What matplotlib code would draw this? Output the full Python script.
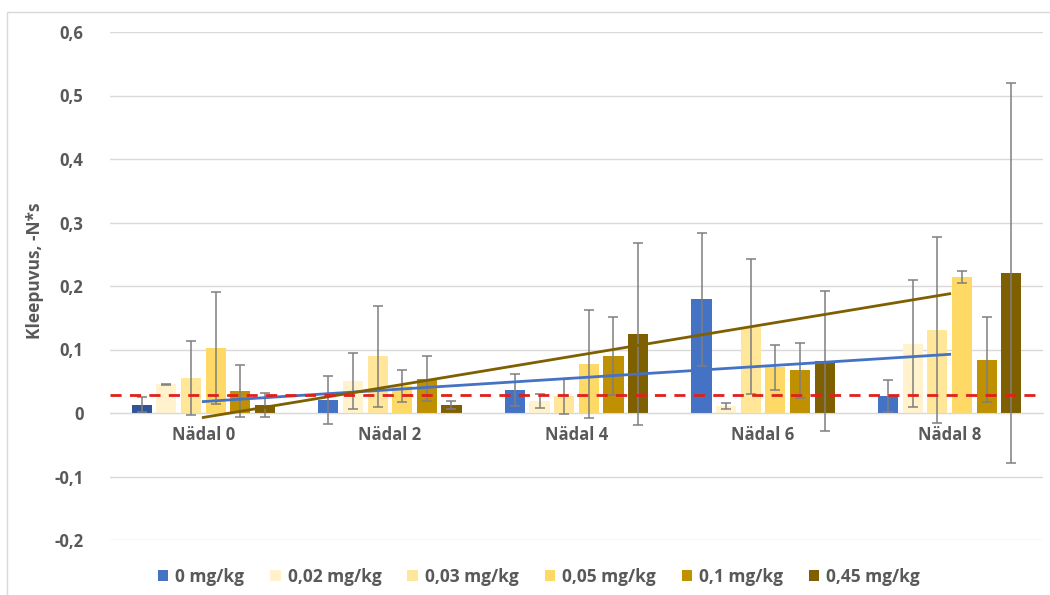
import numpy as np
import matplotlib
matplotlib.use("Agg")
import matplotlib.pyplot as plt
from matplotlib.patches import Patch, Rectangle

plt.rcParams['font.family'] = ['Open Sans', 'DejaVu Sans']

categories = ["Nädal 0", "Nädal 2", "Nädal 4", "Nädal 6", "Nädal 8"]
series_labels = ["0 mg/kg", "0,02 mg/kg", "0,03 mg/kg", "0,05 mg/kg", "0,1 mg/kg", "0,45 mg/kg"]

v_0 = [0.013, 0.021, 0.036, 0.179, 0.027]
v_002 = [0.045, 0.050, 0.019, 0.011, 0.109]
v_003 = [0.055, 0.089, 0.026, 0.136, 0.131]
v_005 = [0.102, 0.043, 0.077, 0.072, 0.214]
v_01 = [0.035, 0.054, 0.090, 0.067, 0.084]
v_045 = [0.012, 0.013, 0.124, 0.082, 0.221]

e_0 = [0.012, 0.038, 0.025, 0.105, 0.025]
e_002 = [0.001, 0.044, 0.011, 0.005, 0.100]
e_003 = [0.058, 0.079, 0.027, 0.106, 0.146]
e_005 = [0.088, 0.025, 0.085, 0.035, 0.010]
e_01 = [0.041, 0.035, 0.061, 0.044, 0.067]
e_045 = [0.019, 0.006, 0.143, 0.110, 0.299]

threshold = 0.028

yticks = [-0.2, -0.1, 0, 0.1, 0.2, 0.3, 0.4, 0.5, 0.6]
ytick_labels = ["-0,2", "-0,1", "0", "0,1", "0,2", "0,3", "0,4", "0,5", "0,6"]

values = [v_0, v_002, v_003, v_005, v_01, v_045]
errors = [e_0, e_002, e_003, e_005, e_01, e_045]
colors = ["#4472C4", "#FFF2CC", "#FFE699", "#FFD966", "#BF9000", "#7F6000"]

gray = "#595959"
fig = plt.figure(figsize=(10.5, 5.95), dpi=100)
ax = fig.add_axes([110/1050, 1-540/595, 933/1050, 508/595])

# outer chart frame
fig.patches.append(Rectangle((7/1050, -0.05), 1.1, 1-12/595+0.05, transform=fig.transFigure,
                             fill=False, edgecolor="#d9d9d9", linewidth=1.0, zorder=0))

x = np.arange(len(categories))
pitch = 0.132
width = 0.108
for i, (vals, errs, c) in enumerate(zip(values, errors, colors)):
    pos = x + (i - 2.5) * pitch
    bar_colors = [c] * len(vals)
    if i == 0:
        bar_colors[0] = "#2F5597"
    ax.bar(pos, vals, width=width, color=bar_colors, zorder=2, label=series_labels[i])
    ax.errorbar(pos, vals, yerr=errs, fmt="none", ecolor="#7f7f7f", elinewidth=1.1,
                capsize=3.5, capthick=1.1, zorder=3)

# linear trendlines
for idx, col in [(0, "#4472C4"), (5, "#7F6000")]:
    k, b = np.polyfit(x, values[idx], 1)
    ax.plot([x[0], x[-1]], [k * x[0] + b, k * x[-1] + b], color=col, linewidth=2.0, zorder=4)

ax.axhline(threshold, color="#E0201B", linewidth=2.0, linestyle=(0, (4, 3)), zorder=5)

ax.set_xlim(-0.5, 4.5)
ax.set_ylim(-0.2, 0.6)
ax.set_yticks(yticks)
ax.set_yticklabels(ytick_labels)
ax.set_xticks(x)
ax.set_xticklabels(categories)
ax.grid(axis="y", color="#d9d9d9", linewidth=1.0, zorder=0)
ax.set_axisbelow(True)
for s in ["top", "right", "left"]:
    ax.spines[s].set_visible(False)
ax.spines["bottom"].set_position(("data", 0))
ax.spines["bottom"].set_color("#d9d9d9")
ax.tick_params(axis="both", length=0)
ax.tick_params(axis="y", pad=19, labelsize=12, labelcolor=gray)
ax.tick_params(axis="x", pad=9, labelsize=12, labelcolor=gray)
for t in ax.get_xticklabels() + ax.get_yticklabels():
    t.set_fontweight("bold")

ax.set_ylabel("Kleepuvus, -N*s", fontsize=12.5, fontweight="bold", color=gray)
ax.yaxis.set_label_coords(-0.071, 0.53)

handles = [Patch(facecolor=c, edgecolor="none") for c in colors]
leg = fig.legend(handles, series_labels, loc="center", bbox_to_anchor=(539/1050, 1-577/595),
                 ncol=6, frameon=False, handlelength=0.6, handleheight=0.6,
                 handletextpad=0.4, columnspacing=1.5,
                 prop={"weight": "bold", "size": 12.5})
for t in leg.get_texts():
    t.set_color(gray)

fig.savefig("out.png", dpi=100)
